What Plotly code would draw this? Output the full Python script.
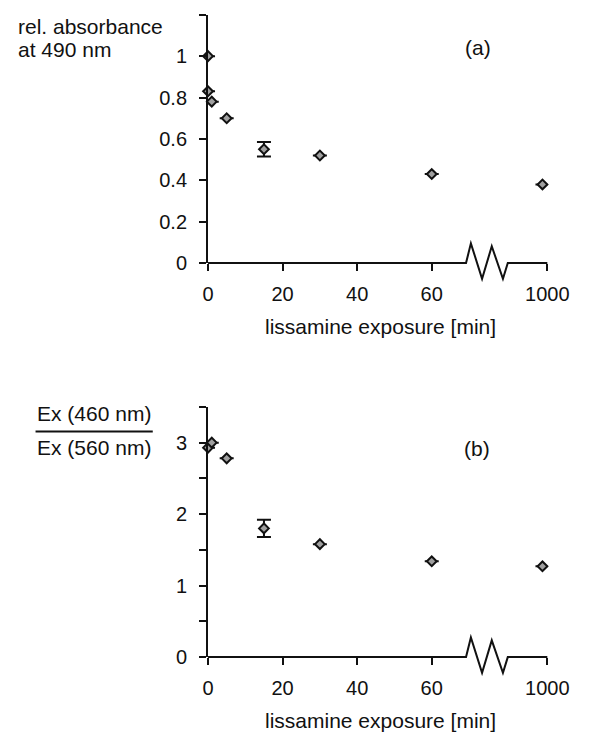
import plotly.graph_objects as go

# ---------------- data ----------------
time_a = [0, 0, 1, 5, 15, 30, 60, 1000]
absorb_a = [1.00, 0.83, 0.78, 0.70, 0.55, 0.52, 0.43, 0.38]
err_a = [0, 0, 0, 0, 0.035, 0, 0, 0]

time_b = [0, 1, 5, 15, 30, 60, 1000]
ratio_b = [2.93, 3.00, 2.78, 1.80, 1.58, 1.34, 1.27]
err_b = [0, 0, 0, 0.12, 0, 0, 0]

x_tick_vals = [0, 20, 40, 60, 1000]
x_tick_text = ["0", "20", "40", "60", "1000"]
y_ticks_a = [0, 0.2, 0.4, 0.6, 0.8, 1.0, 1.2]
y_text_a = ["0", "0.2", "0.4", "0.6", "0.8", "1", ""]
y_ticks_b = [0, 0.5, 1, 1.5, 2, 2.5, 3, 3.5]
y_text_b = ["0", "", "1", "", "2", "", "3", ""]

# ---------------- broken-axis mapping ----------------
BREAK_LO, BREAK_HI = 69.2, 80.4
POS_BEYOND = 89.7
TICK_BEYOND = 91.0
X_MAX = 91.0


def xpos(t):
    return t if t <= 60 else POS_BEYOND


def tickpos(t):
    return t if t <= 60 else TICK_BEYOND


W, H = 596, 742
FONT = "Liberation Sans, Arial, Helvetica, sans-serif"
INK = "#111111"

X0_PX, X1_PX = 212, 568
A_TOP, A_BOT = 15, 267
B_TOP, B_BOT = 413, 667

xdom = [X0_PX / W, X1_PX / W]
ydom_a = [1 - A_BOT / H, 1 - A_TOP / H]
ydom_b = [1 - B_BOT / H, 1 - B_TOP / H]

fig = go.Figure()

marker = dict(symbol="diamond", size=7.5, color="#a0a0a0",
              line=dict(color=INK, width=2))

fig.add_trace(go.Scatter(
    x=[xpos(t) for t in time_a], y=absorb_a, mode="markers",
    marker=marker, cliponaxis=False, showlegend=False,
    error_y=dict(type="data", array=err_a, visible=True,
                 color=INK, thickness=2, width=7),
    xaxis="x", yaxis="y"))

fig.add_trace(go.Scatter(
    x=[xpos(t) for t in time_b], y=ratio_b, mode="markers",
    marker=marker, cliponaxis=False, showlegend=False,
    error_y=dict(type="data", array=err_b, visible=True,
                 color=INK, thickness=2, width=7),
    xaxis="x2", yaxis="y2"))

tickfont = dict(family=FONT, size=20, color=INK)
xcommon = dict(range=[0, X_MAX], showline=False, showgrid=False,
               zeroline=False, ticks="outside", ticklen=7, tickwidth=2,
               tickcolor=INK, tickmode="array",
               tickvals=[tickpos(t) for t in x_tick_vals],
               ticktext=x_tick_text, tickfont=tickfont,
               ticklabelstandoff=6, domain=xdom)
ycommon = dict(showline=True, linewidth=2, linecolor=INK, showgrid=False,
               zeroline=False, ticks="outside", ticklen=7, tickwidth=2,
               tickcolor=INK, tickmode="array", tickfont=tickfont,
               ticklabelstandoff=8)

fig.update_layout(
    width=W, height=H, margin=dict(l=0, r=0, t=0, b=0),
    paper_bgcolor="white", plot_bgcolor="white",
    xaxis=dict(**xcommon, anchor="y"),
    yaxis=dict(**ycommon, range=[0, 1.2], tickvals=y_ticks_a,
               ticktext=y_text_a, domain=ydom_a, anchor="x"),
    xaxis2=dict(**xcommon, anchor="y2"),
    yaxis2=dict(**ycommon, range=[0, 3.5], tickvals=y_ticks_b,
                ticktext=y_text_b, domain=ydom_b, anchor="x2"),
)


def px_x(v):
    return (X0_PX + (v / X_MAX) * (X1_PX - X0_PX)) / W


def axis_path(base_px):
    # x-axis line with a zigzag break (axis units, pixel offsets downward)
    zx = [0, BREAK_LO, 70.5, 73.5, 76.1, 79.1, BREAK_HI, X_MAX]
    zy = [0, 0, -20, 16, -17, 16, 0, 0]
    pts = [f"{px_x(a):.5f},{1 - (base_px + b) / H:.5f}" for a, b in zip(zx, zy)]
    return "M " + " L ".join(pts)


shapes = []
for base in (A_BOT, B_BOT):
    shapes.append(dict(type="path", xref="paper", yref="paper",
                       path=axis_path(base),
                       line=dict(color=INK, width=2)))
# fraction bar for panel (b) y-title
shapes.append(dict(type="line", xref="paper", yref="paper",
                   x0=31 / W, x1=154 / W, y0=1 - 438 / H, y1=1 - 438 / H,
                   line=dict(color=INK, width=2)))
fig.update_layout(shapes=shapes)

tfont = dict(family=FONT, size=21, color=INK)


def ann(text, xp, yp, xanchor="center", yanchor="middle", font=tfont):
    fig.add_annotation(text=text, x=xp / W, y=1 - yp / H, xref="paper",
                       yref="paper", xanchor=xanchor, yanchor=yanchor,
                       showarrow=False, font=font)


ann("rel. absorbance", 10, 27, xanchor="left")
ann("at 490 nm", 10, 50, xanchor="left")
ann("Ex (460 nm)", 92, 420)
ann("Ex (560 nm)", 92, 454)
ann("(a)", 495, 48)
ann("(b)", 494, 455)
ann("lissamine exposure [min]", 393, 331)
ann("lissamine exposure [min]", 393, 731)

fig.write_html("out.html")
